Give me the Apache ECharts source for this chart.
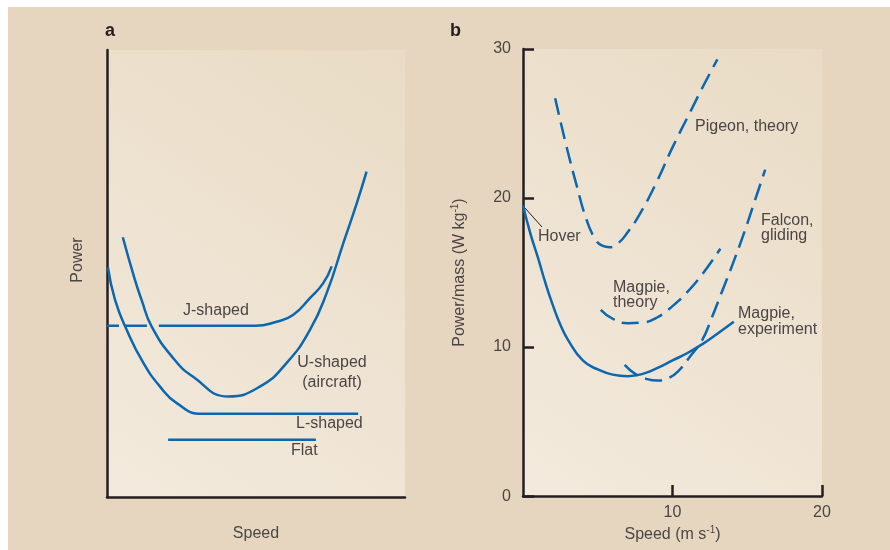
<!DOCTYPE html>
<html>
<head>
<meta charset="utf-8">
<script src="https://cdn.jsdelivr.net/npm/echarts@6/dist/echarts.min.js"></script>
<style>html,body{margin:0;padding:0;background:#fff}#c{width:890px;height:550px}</style>
</head>
<body>
<div id="c"></div>
<script>
// ---------- Panel a (schematic, arbitrary units 0-100) ----------
const jDashX = [0, 13.4];
const jDashY = [38.3, 38.3];
const jSolidX = [17.4, 49.7, 56.9, 62.4, 68.1, 72.5, 75.4];
const jSolidY = [38.3, 38.3, 39.2, 40.7, 44.5, 47.8, 51.6];
const uX = [5.3, 9.4, 11.6, 15.0, 22.3, 28.9, 40.7, 51.3, 60.3, 68.1, 73.7, 79.3, 83.8, 87.1];
const uY = [58.1, 48.5, 44.1, 38.1, 31.0, 26.9, 22.5, 24.7, 30.0, 37.4, 45.6, 56.8, 65.7, 72.8];
const lX = [0.3, 2.7, 6.6, 12.2, 17.8, 23.4, 31.8, 84.3];
const lY = [51.4, 44.1, 37.4, 30.0, 24.7, 21.0, 18.6, 18.6];
const flatX = [20.5, 70.1];
const flatY = [12.8, 12.8];

// ---------- Panel b (speed m/s, power/mass W/kg) ----------
const bYTicks = [0, 10, 20, 30];
const bXTicks = [0, 10, 20];
const pigeonX = [2.15, 2.9, 3.6, 4.2, 4.8, 5.3, 5.8, 6.4, 7.0, 7.8, 8.9, 10.0, 11.2, 12.1, 13.0];
const pigeonY = [26.7, 23.5, 20.8, 18.7, 17.3, 16.8, 16.7, 17.0, 17.7, 18.9, 21.0, 23.4, 25.8, 27.6, 29.3];
const falconX = [6.8, 7.5, 8.3, 9.0, 9.8, 10.5, 11.2, 12.0, 12.6, 13.3, 14.0, 14.8, 15.5, 16.2];
const falconY = [8.8, 8.2, 7.85, 7.75, 7.95, 8.5, 9.4, 10.5, 11.9, 13.7, 15.5, 17.7, 19.8, 21.9];
const magTheoryX = [5.2, 6.0, 7.0, 8.0, 9.0, 10.0, 11.0, 12.0, 13.2];
const magTheoryY = [12.5, 11.9, 11.6, 11.65, 12.0, 12.75, 13.7, 14.9, 16.6];
const magExpX = [0, 0.5, 1, 1.5, 2, 2.5, 3, 4, 5, 6, 7, 8, 9, 10, 11, 12, 13, 14.1];
const magExpY = [19.5, 17.6, 16.0, 14.3, 12.8, 11.5, 10.5, 9.1, 8.5, 8.15, 8.05, 8.2, 8.6, 9.1, 9.6, 10.2, 10.9, 11.7];

const zip = (xs, ys) => xs.map((x, i) => [x, ys[i]]);

const BLUE = '#0a67b0';
const AXIS = '#231f20';
const TXT = '#4b4645';
const FONT = 'Liberation Sans, Arial, sans-serif';
const bg = {
  type: 'linear', x: 0, y: 1, x2: 1, y2: 0,
  colorStops: [{ offset: 0, color: '#f3eadd' }, { offset: 1, color: '#e9dbc5' }]
};

function line(data, xi, dashed, dashPat) {
  return {
    type: 'line', data: data, xAxisIndex: xi, yAxisIndex: xi,
    showSymbol: false, symbol: 'none', smooth: 0.5,
    lineStyle: { color: BLUE, width: 2.5, type: dashed ? (dashPat || [17, 8]) : 'solid', cap: 'butt' },
    z: 3, silent: true
  };
}

const chart = echarts.init(document.getElementById('c'), null, { renderer: 'canvas' });
const option = {
  backgroundColor: '#e7d6bf',
  animation: false,
  textStyle: { fontFamily: FONT },
  grid: [
    { left: 107, right: 485, top: 50, bottom: 53, show: true, backgroundColor: bg, borderWidth: 0 },
    { left: 523, right: 68, top: 49, bottom: 53, show: true, backgroundColor: bg, borderWidth: 0 }
  ],
  xAxis: [
    {
      gridIndex: 0, type: 'value', min: 0, max: 100,
      axisLine: { show: true, lineStyle: { color: AXIS, width: 2.5 } },
      axisTick: { show: false }, axisLabel: { show: false }, splitLine: { show: false },
      name: 'Speed', nameLocation: 'middle', nameGap: 29,
      nameTextStyle: { color: TXT, fontSize: 16, fontFamily: FONT }
    },
    {
      gridIndex: 1, type: 'value', min: bXTicks[0], max: bXTicks[bXTicks.length - 1], interval: 10,
      axisLine: { show: true, lineStyle: { color: AXIS, width: 2.5 } },
      axisTick: { show: true, inside: true, length: 11, lineStyle: { color: AXIS, width: 2.5 } },
      axisLabel: { showMinLabel: false, color: TXT, fontSize: 16, margin: 8, fontFamily: FONT },
      splitLine: { show: false },
      name: 'Speed (m s{sup|-1})', nameLocation: 'middle', nameGap: 27,
      nameTextStyle: { color: TXT, fontSize: 16, fontFamily: FONT, lineHeight: 20,
        rich: { sup: { fontSize: 10, lineHeight: 12, verticalAlign: 'top', color: TXT, fontFamily: FONT } } }
    }
  ],
  yAxis: [
    {
      gridIndex: 0, type: 'value', min: 0, max: 100,
      axisLine: { show: true, lineStyle: { color: AXIS, width: 2.5 } },
      axisTick: { show: false }, axisLabel: { show: false }, splitLine: { show: false }
    },
    {
      gridIndex: 1, type: 'value', min: bYTicks[0], max: bYTicks[bYTicks.length - 1], interval: 10,
      axisLine: { show: true, lineStyle: { color: AXIS, width: 2.5 } },
      axisTick: { show: true, inside: true, length: 11, lineStyle: { color: AXIS, width: 2.5 } },
      axisLabel: { color: TXT, fontSize: 16, margin: 12, fontFamily: FONT },
      splitLine: { show: false },
      name: 'Power/mass (W kg{sup|-1})', nameLocation: 'middle', nameGap: 53,
      nameTextStyle: { color: TXT, fontSize: 16, fontFamily: FONT, lineHeight: 20,
        rich: { sup: { fontSize: 10, lineHeight: 12, verticalAlign: 'top', color: TXT, fontFamily: FONT } } }
    }
  ],
  series: [
    line(zip(jDashX, jDashY), 0, true, [12, 6, 22, 6]),
    line(zip(jSolidX, jSolidY), 0, false),
    line(zip(uX, uY), 0, false),
    line(zip(lX, lY), 0, false),
    line(zip(flatX, flatY), 0, false),
    line(zip(pigeonX, pigeonY), 1, true),
    line(zip(falconX, falconY), 1, true),
    line(zip(magTheoryX, magTheoryY), 1, true),
    line(zip(magExpX, magExpY), 1, false)
  ],
  graphic: [
    { type: 'rect', shape: { x: 0, y: 0, width: 890, height: 7 }, style: { fill: '#ffffff' }, z: 100 },
    { type: 'rect', shape: { x: 0, y: 0, width: 8, height: 550 }, style: { fill: '#ffffff' }, z: 100 },
    { type: 'text', x: 105, y: 31, z: 100, style: { text: 'a', fill: AXIS, font: 'bold 18px ' + FONT, textVerticalAlign: 'middle' } },
    { type: 'text', x: 450, y: 31, z: 100, style: { text: 'b', fill: AXIS, font: 'bold 18px ' + FONT, textVerticalAlign: 'middle' } },
    { type: 'text', x: 78, y: 260, rotation: Math.PI / 2, z: 100,
      style: { text: 'Power', fill: TXT, font: '16px ' + FONT, textAlign: 'center', textVerticalAlign: 'middle' } },
    { type: 'text', x: 183, y: 311, z: 100, style: { text: 'J-shaped', fill: TXT, font: '16px ' + FONT, textVerticalAlign: 'middle' } },
    { type: 'text', x: 332, y: 373, z: 100, style: { text: 'U-shaped\n(aircraft)', fill: TXT, font: '16px ' + FONT, lineHeight: 20, textAlign: 'center', textVerticalAlign: 'middle' } },
    { type: 'text', x: 296, y: 424, z: 100, style: { text: 'L-shaped', fill: TXT, font: '16px ' + FONT, textVerticalAlign: 'middle' } },
    { type: 'text', x: 291, y: 451, z: 100, style: { text: 'Flat', fill: TXT, font: '16px ' + FONT, textVerticalAlign: 'middle' } },
    { type: 'text', x: 695, y: 127, z: 100, style: { text: 'Pigeon, theory', fill: TXT, font: '16px ' + FONT, textVerticalAlign: 'middle' } },
    { type: 'text', x: 761, y: 228.5, z: 100, style: { text: 'Falcon,\ngliding', fill: TXT, font: '16px ' + FONT, lineHeight: 15, textVerticalAlign: 'middle' } },
    { type: 'text', x: 538, y: 237, z: 100, style: { text: 'Hover', fill: TXT, font: '16px ' + FONT, textVerticalAlign: 'middle' } },
    { type: 'line', z: 100, shape: { x1: 525, y1: 208, x2: 542, y2: 227 }, style: { stroke: AXIS, lineWidth: 1 } },
    { type: 'text', x: 613, y: 295.5, z: 100, style: { text: 'Magpie,\ntheory', fill: TXT, font: '16px ' + FONT, lineHeight: 15, textVerticalAlign: 'middle' } },
    { type: 'text', x: 738, y: 322, z: 100, style: { text: 'Magpie,\nexperiment', fill: TXT, font: '16px ' + FONT, lineHeight: 16, textVerticalAlign: 'middle' } }
  ]
};
chart.setOption(option);
</script>
</body>
</html>
